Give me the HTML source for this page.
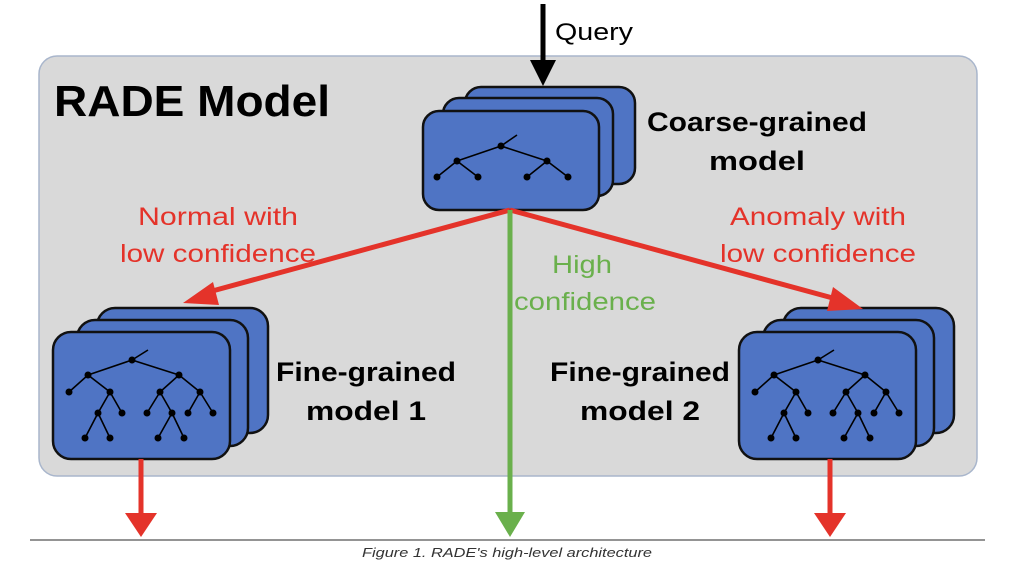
<!DOCTYPE html>
<html><head><meta charset="utf-8"><style>
html,body{margin:0;padding:0;background:#fff;width:1024px;height:571px;overflow:hidden}
svg text{font-family:"Liberation Sans",sans-serif}
</style></head><body>
<svg width="1024" height="571" viewBox="0 0 1024 571" xmlns="http://www.w3.org/2000/svg">
<defs>
<g id="card"><rect x="0" y="0" width="0" height="0"/></g>
</defs>
<rect x="39" y="56" width="938" height="420" rx="18" fill="#d9d9d9" stroke="#a9b6cc" stroke-width="1.5"/>
<text x="54" y="116" font-size="44" font-weight="bold" textLength="276" lengthAdjust="spacingAndGlyphs">RADE Model</text>

<!-- query arrow -->
<line x1="543" y1="4" x2="543" y2="62" stroke="#000" stroke-width="5"/>
<polygon points="530,60 556,60 543,86" fill="#000"/>
<text x="555" y="40" font-size="24" textLength="78" lengthAdjust="spacingAndGlyphs">Query</text>

<!-- coarse cards -->
<g stroke="#111" stroke-width="2.5" fill="#4f74c4">
<rect x="465" y="87" width="170" height="97" rx="16"/>
<rect x="443" y="98" width="170" height="98" rx="16"/>
<rect x="423" y="111" width="176" height="99" rx="16"/>
</g>
<g stroke="#000" stroke-width="1.6" fill="none">
<path d="M501,146 L517,135 M501,146 L457,161 M501,146 L547,161 M457,161 L437,177 M457,161 L478,177 M547,161 L527,177 M547,161 L568,177"/>
</g>
<g fill="#000">
<circle cx="501" cy="146" r="3.5"/><circle cx="457" cy="161" r="3.5"/><circle cx="547" cy="161" r="3.5"/>
<circle cx="437" cy="177" r="3.5"/><circle cx="478" cy="177" r="3.5"/><circle cx="527" cy="177" r="3.5"/><circle cx="568" cy="177" r="3.5"/>
</g>
<text x="757" y="131" font-size="27" font-weight="bold" text-anchor="middle" textLength="220" lengthAdjust="spacingAndGlyphs">Coarse-grained</text>
<text x="757" y="170" font-size="27" font-weight="bold" text-anchor="middle" textLength="96" lengthAdjust="spacingAndGlyphs">model</text>

<!-- fine trees -->
<g id="fine1">
<g stroke="#111" stroke-width="2.5" fill="#4f74c4">
<rect x="97" y="308" width="171" height="125" rx="18"/>
<rect x="77" y="320" width="171" height="126" rx="18"/>
<rect x="53" y="332" width="177" height="127" rx="18"/>
</g>
<g stroke="#000" stroke-width="1.6" fill="none">
<path d="M132,360 L148,350 M132,360 L88,375 M132,360 L179,375 M88,375 L69,392 M88,375 L110,392 M179,375 L160,392 M179,375 L200,392 M110,392 L98,413 M110,392 L122,413 M98,413 L85,438 M98,413 L110,438 M160,392 L147,413 M160,392 L172,413 M172,413 L158,438 M172,413 L184,438 M200,392 L188,413 M200,392 L213,413"/>
</g>
<g fill="#000">
<circle cx="132" cy="360" r="3.5"/><circle cx="88" cy="375" r="3.5"/><circle cx="179" cy="375" r="3.5"/>
<circle cx="69" cy="392" r="3.5"/><circle cx="110" cy="392" r="3.5"/><circle cx="160" cy="392" r="3.5"/><circle cx="200" cy="392" r="3.5"/>
<circle cx="98" cy="413" r="3.5"/><circle cx="122" cy="413" r="3.5"/><circle cx="147" cy="413" r="3.5"/><circle cx="172" cy="413" r="3.5"/><circle cx="188" cy="413" r="3.5"/><circle cx="213" cy="413" r="3.5"/>
<circle cx="85" cy="438" r="3.5"/><circle cx="110" cy="438" r="3.5"/><circle cx="158" cy="438" r="3.5"/><circle cx="184" cy="438" r="3.5"/>
</g>
</g>
<use href="#fine1" transform="translate(686,0)"/>

<text x="366" y="381" font-size="27" font-weight="bold" text-anchor="middle" textLength="180" lengthAdjust="spacingAndGlyphs">Fine-grained</text>
<text x="366" y="420" font-size="27" font-weight="bold" text-anchor="middle" textLength="120" lengthAdjust="spacingAndGlyphs">model 1</text>
<text x="640" y="381" font-size="27" font-weight="bold" text-anchor="middle" textLength="180" lengthAdjust="spacingAndGlyphs">Fine-grained</text>
<text x="640" y="420" font-size="27" font-weight="bold" text-anchor="middle" textLength="120" lengthAdjust="spacingAndGlyphs">model 2</text>

<!-- red arrows -->
<g stroke="#e4332a" stroke-width="5" fill="none">
<line x1="510" y1="210" x2="205" y2="293"/>
<line x1="510" y1="210" x2="840" y2="300"/>
<line x1="141" y1="459" x2="141" y2="515"/>
<line x1="830" y1="459" x2="830" y2="515"/>
</g>
<g fill="#e4332a">
<polygon points="183,303 213,282 219,305"/>
<polygon points="863,309 833,287 827,311"/>
<polygon points="125,513 157,513 141,537"/>
<polygon points="814,513 846,513 830,537"/>
</g>
<!-- green -->
<line x1="510" y1="210" x2="510" y2="515" stroke="#6ab04c" stroke-width="5"/>
<polygon points="495,512 525,512 510,537" fill="#6ab04c"/>

<g fill="#e4332a" font-size="25" text-anchor="middle">
<text x="218" y="225" textLength="160" lengthAdjust="spacingAndGlyphs">Normal with</text>
<text x="218" y="262" textLength="196" lengthAdjust="spacingAndGlyphs">low confidence</text>
<text x="818" y="225" textLength="176" lengthAdjust="spacingAndGlyphs">Anomaly with</text>
<text x="818" y="262" textLength="196" lengthAdjust="spacingAndGlyphs">low confidence</text>
</g>
<g fill="#6ab04c" font-size="25" text-anchor="middle">
<text x="582" y="273" textLength="60" lengthAdjust="spacingAndGlyphs">High</text>
<text x="585" y="310" textLength="142" lengthAdjust="spacingAndGlyphs">confidence</text>
</g>

<line x1="30" y1="540" x2="985" y2="540" stroke="#555" stroke-width="1.2"/>
<text x="507" y="557" font-size="13" font-style="italic" fill="#333" text-anchor="middle" textLength="290" lengthAdjust="spacingAndGlyphs">Figure 1. RADE's high-level architecture</text>
</svg>
</body></html>
